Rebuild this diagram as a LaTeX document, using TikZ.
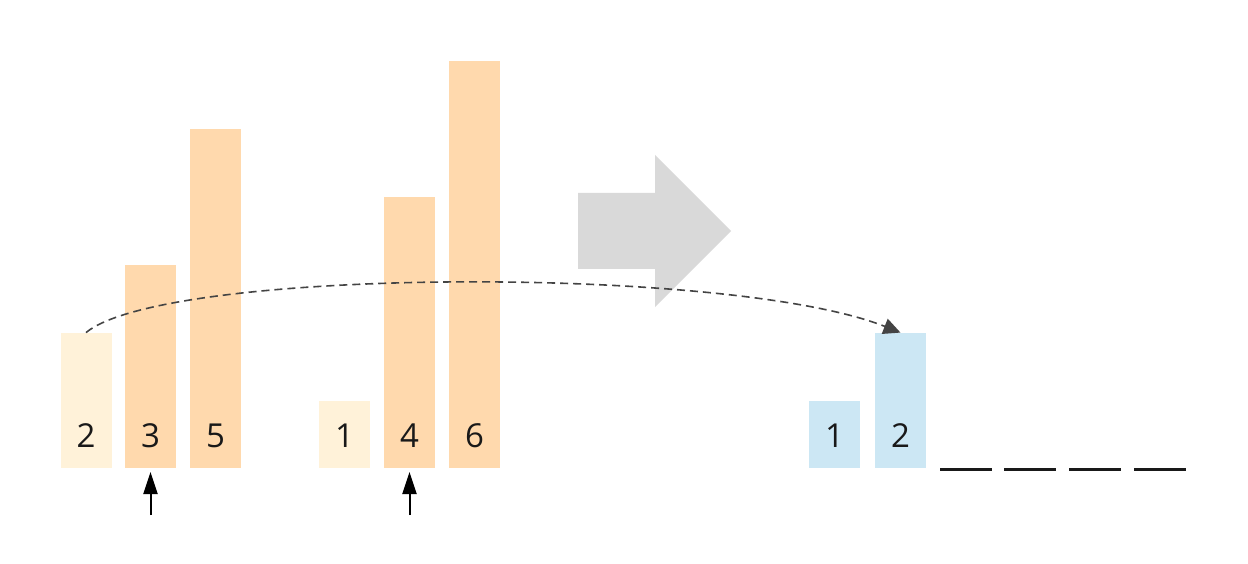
\documentclass[tikz,border=0pt]{standalone}
\usepackage{fontspec}
\setmainfont{Open Sans}
\usetikzlibrary{arrows.meta}
\definecolor{pale}{HTML}{FFF2D9}
\definecolor{orng}{HTML}{FFD9AD}
\definecolor{blu}{HTML}{CCE7F4}
\definecolor{grayarrow}{HTML}{D9D9D9}
\definecolor{dashc}{HTML}{444444}
\tikzset{
  bar/.style={rectangle, draw=none, inner sep=0pt, minimum width=51pt, anchor=south},
  num/.style={inner sep=0pt, font=\fontsize{33}{33}\selectfont, text=black!90},
  pointer/.style={line width=2pt, black, -{Triangle[width=14pt,length=22pt]}},
  slot/.style={line width=3pt, black!90},
}
\begin{document}
\begin{tikzpicture}[x=1pt,y=-1pt]
\useasboundingbox (0,0) rectangle (1248,564);
\fill[white] (0,0) rectangle (1248,564);
% left group
\node[bar, fill=pale, minimum height=135pt] (b2) at (86,468) {};
\node[bar, fill=orng, minimum height=203pt] (b3) at (150.5,468) {};
\node[bar, fill=orng, minimum height=339pt] (b5) at (215.5,468) {};
\node[bar, fill=pale, minimum height=67pt] (b1) at (344.5,468) {};
\node[bar, fill=orng, minimum height=271pt] (b4) at (409.5,468) {};
\node[bar, fill=orng, minimum height=407pt] (b6) at (474.5,468) {};
\node[num] (n2) at (86,436) {2};
\node[num] (n3) at (150.5,436) {3};
\node[num] (n5) at (215.5,436) {5};
\node[num] (n1) at (344.5,436) {1};
\node[num] (n4) at (409.5,436) {4};
\node[num] (n6) at (474.5,436) {6};
% right group
\node[bar, fill=blu, minimum height=67pt] (r1) at (834.5,468) {};
\node[bar, fill=blu, minimum height=135pt] (r2) at (900.5,468) {};
\node[num] (m1) at (834.5,436) {1};
\node[num] (m2) at (900.5,436) {2};
% empty slots
\draw[slot] (940,469) -- (992,469);
\draw[slot] (1004,469) -- (1056,469);
\draw[slot] (1069,469) -- (1121,469);
\draw[slot] (1134,469) -- (1186,469);
% pointers
\coordinate (p1) at (150.5,515);
\coordinate (p2) at (409.5,515);
\draw[pointer, shorten >=4pt] (p1) -- (b3.south);
\draw[pointer, shorten >=4pt] (p2) -- (b4.south);
% big gray arrow
\fill[grayarrow] (578,193) -- (655,193) -- (655,155) -- (731,231) -- (655,307) -- (655,269) -- (578,269) -- cycle;
% dashed move arrow
\draw[dashc, line width=1.6pt, dash pattern=on 8pt off 5pt, -{Triangle[width=16pt,length=17pt]}]
  (b2.north) .. controls (165,267) and (730,265) .. (r2.north);
\end{tikzpicture}
\end{document}
